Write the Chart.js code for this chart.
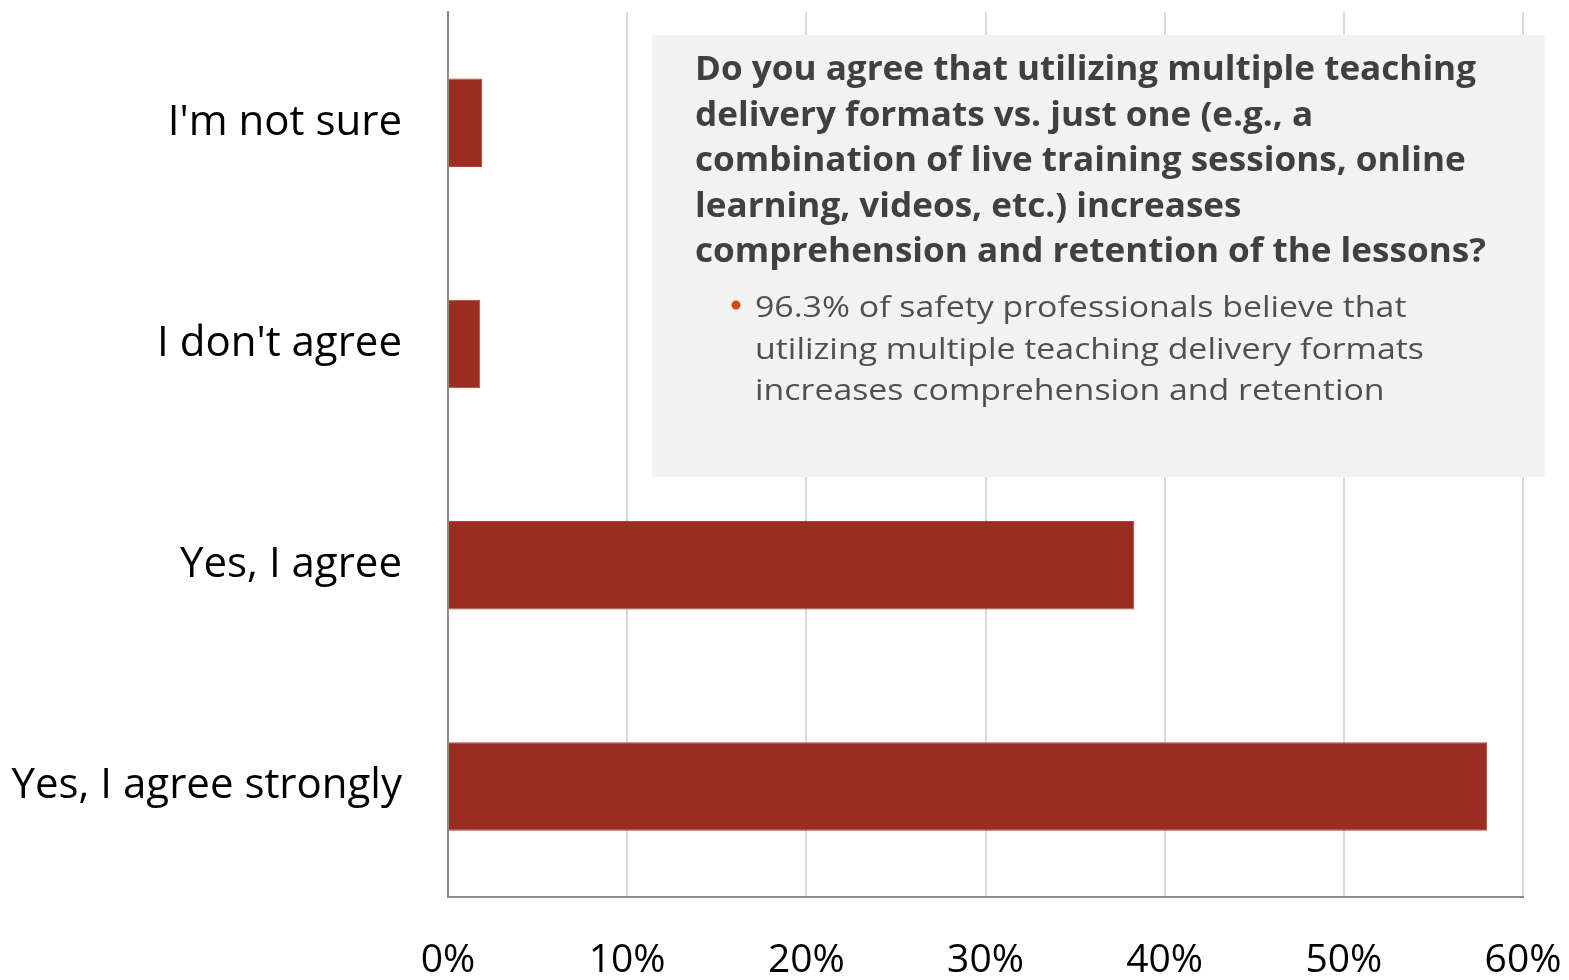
<!DOCTYPE html>
<html>
<head>
<meta charset="utf-8">
<script src="https://cdn.jsdelivr.net/npm/chart.js@4.4.1/dist/chart.umd.min.js"></script>
<style>
  html, body { margin: 0; padding: 0; background: #ffffff; }
  #wrap { width: 1569px; height: 980px; }
</style>
</head>
<body>
<div id="wrap"><canvas id="c" width="1569" height="980"></canvas></div>
<script>
// ---- data ----
const categories = ["I'm not sure", "I don't agree", "Yes, I agree", "Yes, I agree strongly"];
const shares = [1.9, 1.8, 38.3, 58.0];
const xTicks = [0, 10, 20, 30, 40, 50, 60];
const boxTitleLines = [
  "Do you agree that utilizing multiple teaching",
  "delivery formats vs. just one (e.g., a",
  "combination of live training sessions, online",
  "learning, videos, etc.) increases",
  "comprehension and retention of the lessons?"
];
const boxBodyLines = [
  "96.3% of safety professionals believe that",
  "utilizing multiple teaching delivery formats",
  "increases comprehension and retention"
];

const textBoxPlugin = {
  id: 'textBox',
  afterDraw(chart) {
    const ctx = chart.ctx;
    ctx.save();
    ctx.fillStyle = '#f2f2f2';
    ctx.fillRect(652, 35, 893, 442);

    // Bold question
    ctx.font = 'bold 34px "Open Sans"';
    ctx.fillStyle = '#404040';
    ctx.textBaseline = 'alphabetic';
    ctx.textAlign = 'left';
    const w1 = ctx.measureText(boxTitleLines[0]).width;
    const sx1 = 781 / w1;
    boxTitleLines.forEach((t, i) => {
      ctx.save();
      ctx.translate(695, 80 + i * 45.6);
      ctx.scale(sx1, 1);
      ctx.fillText(t, 0, 0);
      ctx.restore();
    });

    // Body bullet text
    ctx.font = '30px "Open Sans"';
    ctx.fillStyle = '#505050';
    const w2 = ctx.measureText(boxBodyLines[1]).width;
    const sx2 = 669 / w2;
    boxBodyLines.forEach((t, i) => {
      ctx.save();
      ctx.translate(755, 317 + i * 41.5);
      ctx.scale(sx2, 1);
      ctx.fillText(t, 0, 0);
      ctx.restore();
    });
    // bullet
    ctx.fillStyle = '#d24b1a';
    ctx.beginPath();
    ctx.arc(736, 305, 4.5, 0, Math.PI * 2);
    ctx.fill();
    ctx.restore();
  }
};

new Chart(document.getElementById('c'), {
  type: 'bar',
  data: {
    labels: categories,
    datasets: [{
      data: shares,
      backgroundColor: '#9a2d20',
      borderColor: '#b0463a',
      borderWidth: 1,
      borderSkipped: 'start',
      categoryPercentage: 1.0,
      barPercentage: 0.4
    }]
  },
  options: {
    indexAxis: 'y',
    responsive: false,
    animation: false,
    devicePixelRatio: 1,
    layout: { padding: { top: 12, right: 46, left: 0, bottom: 0 } },
    plugins: { legend: { display: false }, tooltip: { enabled: false }, title: { display: false } },
    scales: {
      x: {
        min: 0, max: 60,
        afterBuildTicks(scale) { scale.ticks = xTicks.map(v => ({ value: v })); },
        afterFit(scale) { scale.height = 83; scale.paddingLeft = 0; scale.paddingRight = 0; },
        ticks: {
          padding: 40,
          color: '#000000',
          font: { family: '"Open Sans"', size: 39 },
          maxRotation: 0,
          callback: v => v + '%'
        },
        grid: { color: '#d9d9d9', lineWidth: 2, drawTicks: false },
        border: { display: true, color: '#8c8c8c', width: 2 }
      },
      y: {
        afterFit(scale) { scale.width = 448; scale.paddingTop = 0; scale.paddingBottom = 0; },
        ticks: {
          padding: 46,
          color: '#000000',
          font: { family: '"Open Sans"', size: 42 }
        },
        grid: { display: true, drawOnChartArea: false, drawTicks: false },
        border: { display: true, color: '#8c8c8c', width: 2 }
      }
    }
  },
  plugins: [textBoxPlugin]
});
</script>
</body>
</html>
